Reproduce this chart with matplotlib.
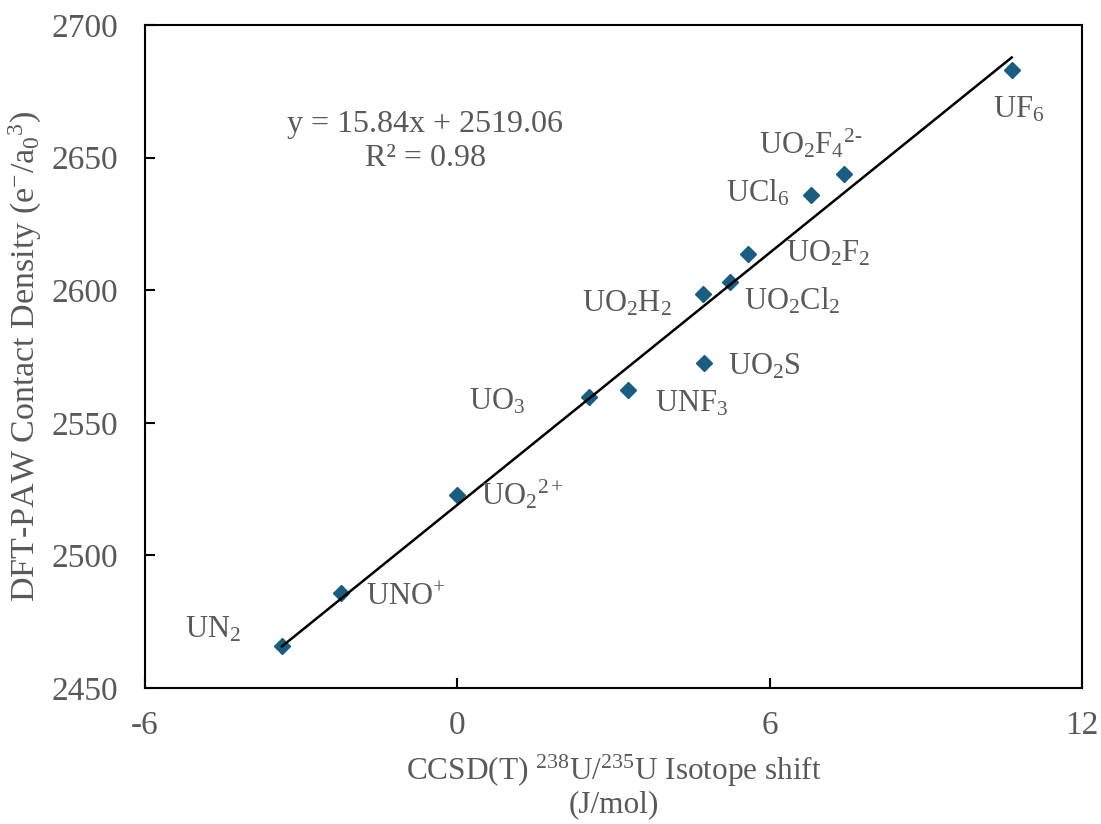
import numpy as np
import matplotlib
matplotlib.use('Agg')
import matplotlib.pyplot as plt

# CCSD(T) isotope shift (J/mol) vs DFT-PAW contact density
species = ['UN$_2$', 'UNO$^{+}$', 'UO$_2$$^{2+}$', 'UO$_3$', 'UNF$_3$', 'UO$_2$S',
           'UO$_2$H$_2$', 'UO$_2$Cl$_2$', 'UO$_2$F$_2$', 'UCl$_6$',
           'UO$_2$F$_4$$^{2\\text{-}}$', 'UF$_6$']
shift = [-3.37, -2.24, 0.00, 2.52, 3.27, 4.74, 4.71, 5.24, 5.58, 6.79, 7.42, 10.65]
density = [2465.8, 2485.8, 2522.8, 2559.8, 2562.4, 2572.7,
           2598.4, 2603.2, 2613.5, 2635.8, 2643.7, 2683.0]

# label offsets from each point (pixels, left edge / baseline)
label_dx = [-97, 25, 24, -120, 27, 24, -121, 14, 38, -85, -85, -19]
label_dy = [9, -12, -10, -13, -22, -12, -17, -28, -7, -6, 21, -47]

slope = 15.84
intercept = 2519.06
r2 = 0.98

x_ticks = [-6, 0, 6, 12]
y_ticks = [2450, 2500, 2550, 2600, 2650, 2700]

TEXT = '#595959'
MARK = '#1A5D80'
FS = 22

plt.rcParams['font.family'] = ['Liberation Serif', 'DejaVu Serif']
plt.rcParams['mathtext.fontset'] = 'custom'
plt.rcParams['mathtext.rm'] = 'Liberation Serif'
plt.rcParams['mathtext.it'] = 'Liberation Serif:italic'
plt.rcParams['mathtext.bf'] = 'Liberation Serif:bold'
plt.rcParams['mathtext.default'] = 'rm'
plt.rcParams['axes.unicode_minus'] = False


def makePlot(out_file):
    fig = plt.figure(figsize=(11.01, 8.24), dpi=100)
    ax = fig.add_axes([145 / 1101, 136 / 824, 937 / 1101, 663 / 824])

    ax.plot(shift, density, linestyle='none', marker='D', markersize=8,
            color=MARK, zorder=2)

    xs = np.array([min(shift), max(shift)])
    ax.plot(xs, slope * xs + intercept, color='black', linewidth=1.8, zorder=3)

    for name, x, y, dx, dy in zip(species, shift, density, label_dx, label_dy):
        ax.annotate(name, (x, y), xytext=(dx, dy), textcoords='offset pixels',
                    ha='left', va='baseline', fontsize=FS, color=TEXT)

    ax.text(0.299, 0.839, 'y = %.2fx + %.2f' % (slope, intercept),
            transform=ax.transAxes, ha='center', va='baseline',
            fontsize=23, color=TEXT)
    ax.text(0.299, 0.787, 'R\u00b2 = %.2f' % r2,
            transform=ax.transAxes, ha='center', va='baseline',
            fontsize=23, color=TEXT)

    ax.set_xlim(-6, 12)
    ax.set_ylim(2450, 2700)
    ax.set_xticks(x_ticks)
    ax.set_yticks(y_ticks)
    ax.tick_params(direction='in', length=7, width=1.5, labelsize=24,
                   labelcolor=TEXT, color='black')
    ax.tick_params(axis='y', pad=19)
    ax.tick_params(axis='x', pad=16)
    for sp in ax.spines.values():
        sp.set_linewidth(1.5)
        sp.set_color('black')

    ax.set_xlabel('CCSD(T) $^{238}$U/$^{235}$U Isotope shift\n(J/mol)',
                  fontsize=22.5, color=TEXT, linespacing=1.1)
    ax.xaxis.set_label_coords(0.5, -0.097)
    ax.xaxis.label.set_va('top')
    ax.set_ylabel('DFT-PAW Contact Density (e$^{-}$/a$_0$$^3$)',
                  fontsize=24.5, color=TEXT)
    ax.yaxis.set_label_coords(-0.108, 0.5)

    fig.savefig(out_file, dpi=100)


if __name__ == '__main__':
    makePlot('out.png')
